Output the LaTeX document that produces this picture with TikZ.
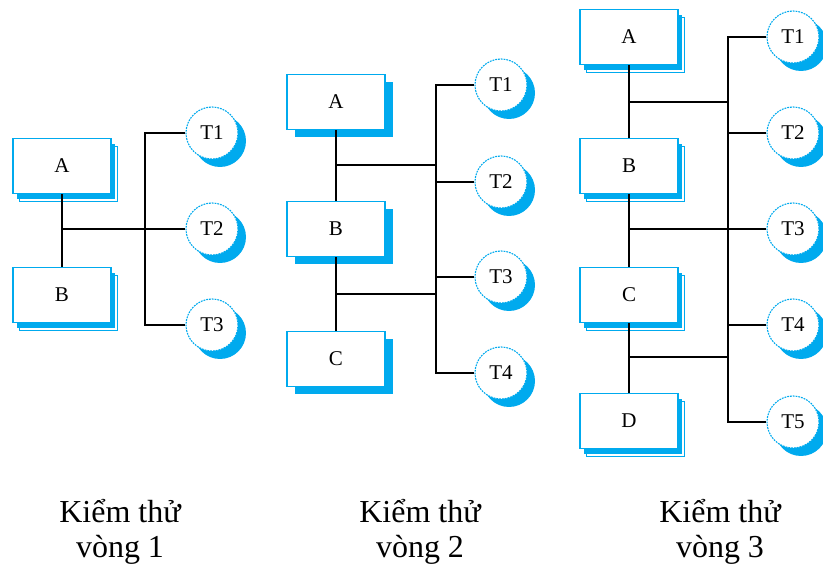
\documentclass[tikz,border=0pt]{standalone}
\usepackage{fontspec}
\setmainfont{Liberation Serif}
\usetikzlibrary{shadows}
\definecolor{boxblue}{RGB}{0,170,238}

\begin{document}
\begin{tikzpicture}[x=1pt,y=-1pt,
  wire/.style={line width=1.3pt, black},
  modbox/.style={rectangle, minimum width=98pt, minimum height=55pt, inner sep=0pt,
    draw=boxblue, line width=1.5pt, fill=white, font=\fontsize{21}{24}\selectfont},
  dblshadow/.style={
    general shadow={shadow xshift=6pt, shadow yshift=-8pt, draw=boxblue, line width=1pt, fill=white},
    general shadow={shadow xshift=3.5pt, shadow yshift=-5.5pt, fill=boxblue, draw=none}},
  solidshadow/.style={
    general shadow={shadow xshift=8pt, shadow yshift=-8pt, fill=boxblue, draw=none}},
  testnode/.style={circle, minimum size=52pt, inner sep=0pt, fill=white,
    draw=boxblue, line width=1.1pt, dash pattern=on 1.8pt off 1pt,
    font=\fontsize{21}{24}\selectfont,
    general shadow={shadow xshift=8pt, shadow yshift=-8pt, fill=boxblue, draw=none, solid}},
  caption/.style={align=center, font=\fontsize{32}{35}\selectfont, inner sep=0pt}
]
\useasboundingbox (0,0) rectangle (823,569);
\clip (0,0) rectangle (823,569);

% ---------- round 1 ----------
\node[modbox, dblshadow] (A1) at (62,166) {A};
\node[modbox, dblshadow] (B1) at (62,295) {B};
\node[testnode] (T11) at (212,133) {T1};
\node[testnode] (T12) at (212,229) {T2};
\node[testnode] (T13) at (212,325) {T3};
\coordinate (bus1) at (145,229);
\coordinate (j11) at (62,229);
\draw[wire] (A1.south) -- (B1.north);
\draw[wire] (j11) -- (T12.west);
\draw[wire] (T11.west) -| (bus1) |- (T13.west);

% ---------- round 2 ----------
\node[modbox, solidshadow] (A2) at (336,102) {A};
\node[modbox, solidshadow] (B2) at (336,229) {B};
\node[modbox, solidshadow] (C2) at (336,359) {C};
\node[testnode] (T21) at (501,85) {T1};
\node[testnode] (T22) at (501,182) {T2};
\node[testnode] (T23) at (501,277) {T3};
\node[testnode] (T24) at (501,373) {T4};
\coordinate (bus2) at (436,229);
\coordinate (j21) at (336,165);
\coordinate (j22) at (336,294);
\draw[wire] (A2.south) -- (B2.north);
\draw[wire] (B2.south) -- (C2.north);
\draw[wire] (j21) -- (j21 -| bus2);
\draw[wire] (j22) -- (j22 -| bus2);
\draw[wire] (T21.west) -| (bus2) |- (T24.west);
\draw[wire] (bus2 |- T22.west) -- (T22.west);
\draw[wire] (bus2 |- T23.west) -- (T23.west);

% ---------- round 3 ----------
\node[modbox, dblshadow] (A3) at (629,37) {A};
\node[modbox, dblshadow] (B3) at (629,166) {B};
\node[modbox, dblshadow] (C3) at (629,295) {C};
\node[modbox, dblshadow] (D3) at (629,421) {D};
\node[testnode] (T31) at (793,37) {T1};
\node[testnode] (T32) at (793,133) {T2};
\node[testnode] (T33) at (793,229) {T3};
\node[testnode] (T34) at (793,325) {T4};
\node[testnode] (T35) at (793,422) {T5};
\coordinate (bus3) at (728,229);
\coordinate (j31) at (629,102);
\coordinate (j32) at (629,229);
\coordinate (j33) at (629,357);
\draw[wire] (A3.south) -- (B3.north);
\draw[wire] (B3.south) -- (C3.north);
\draw[wire] (C3.south) -- (D3.north);
\draw[wire] (j31) -- (j31 -| bus3);
\draw[wire] (j32) -- (T33.west);
\draw[wire] (j33) -- (j33 -| bus3);
\draw[wire] (T31.west) -| (bus3) |- (T35.west);
\draw[wire] (bus3 |- T32.west) -- (T32.west);
\draw[wire] (bus3 |- T34.west) -- (T34.west);

% ---------- captions (anchored on the second line's baseline) ----------
\node[caption, anchor=base] (L1) at (120,558) {Kiểm thử\\vòng 1};
\node[caption, anchor=base] (L2) at (420,558) {Kiểm thử\\vòng 2};
\node[caption, anchor=base] (L3) at (720,558) {Kiểm thử\\vòng 3};
\end{tikzpicture}
\end{document}
